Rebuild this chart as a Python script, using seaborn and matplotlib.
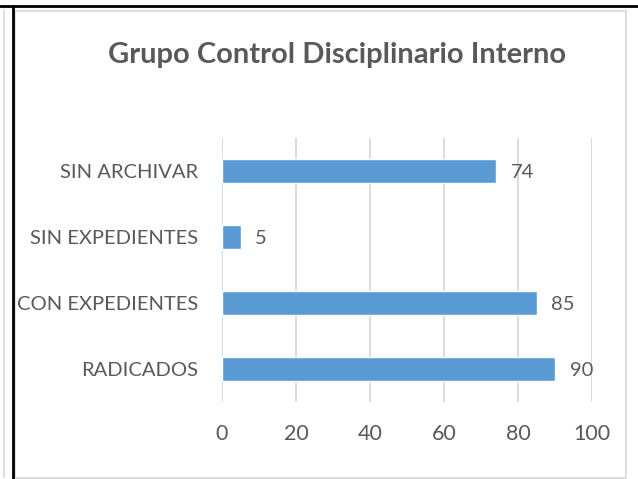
import matplotlib
matplotlib.use("Agg")
import matplotlib.pyplot as plt
from matplotlib.lines import Line2D
from matplotlib.patches import Rectangle
import seaborn as sns
import pandas as pd

categories = ["SIN ARCHIVAR", "SIN EXPEDIENTES", "CON EXPEDIENTES", "RADICADOS"]
values = [74, 5, 85, 90]
x_ticks = [0, 20, 40, 60, 80, 100]
title = "Grupo Control Disciplinario Interno"

BAR = "#5B9BD5"
TXT = "#595959"
GRID = "#D9D9D9"

sns.set_theme(style="white")
plt.rcParams["font.family"] = ["Lato", "DejaVu Sans"]

df = pd.DataFrame({"cat": categories, "val": values})

fig = plt.figure(figsize=(6.38, 4.79), dpi=100)
W, H = 638, 479

# outer frame / page lines
fig.add_artist(Rectangle((15.5 / W, 1 - 478 / H), (626 - 15.5) / W, (478 - 10.5) / H,
                         transform=fig.transFigure, fill=False, edgecolor=GRID, lw=1.2))
fig.add_artist(Line2D([3.5 / W, 3.5 / W], [1 - 10 / H, 1 - 477 / H], transform=fig.transFigure,
                      color=GRID, lw=1.2))
fig.add_artist(Line2D([0, 1], [1 - 6 / H, 1 - 6 / H], transform=fig.transFigure, color="black", lw=2))
fig.add_artist(Line2D([13 / W, 13 / W], [0, 1 - 6 / H], transform=fig.transFigure, color="black", lw=2))

ax = fig.add_axes([222 / W, 1 - 402 / H, (592 - 222) / W, (402 - 138) / H])
sns.barplot(data=df, x="val", y="cat", orient="h", color=BAR, saturation=1, width=0.366, ax=ax)

ax.set_xlim(0, 100)
ax.set_xticks(x_ticks)
ax.grid(axis="x", color=GRID, lw=1.3)
ax.set_axisbelow(True)
for s in ax.spines.values():
    s.set_visible(False)
ax.set_xlabel("")
ax.set_ylabel("")
ax.tick_params(axis="x", length=0, pad=16, labelsize=15.5, labelcolor=TXT)
ax.tick_params(axis="y", length=0, pad=17, labelsize=14.5, labelcolor=TXT)

for i, v in enumerate(values):
    ax.text(v + 4, i + 0.03, str(v), va="center", ha="left", fontsize=14.5, color=TXT)

fig.text(337 / W, 1 - 63 / H, title, ha="center", va="baseline", fontsize=21, fontweight="bold", color=TXT)

fig.savefig("out.png", dpi=100)
